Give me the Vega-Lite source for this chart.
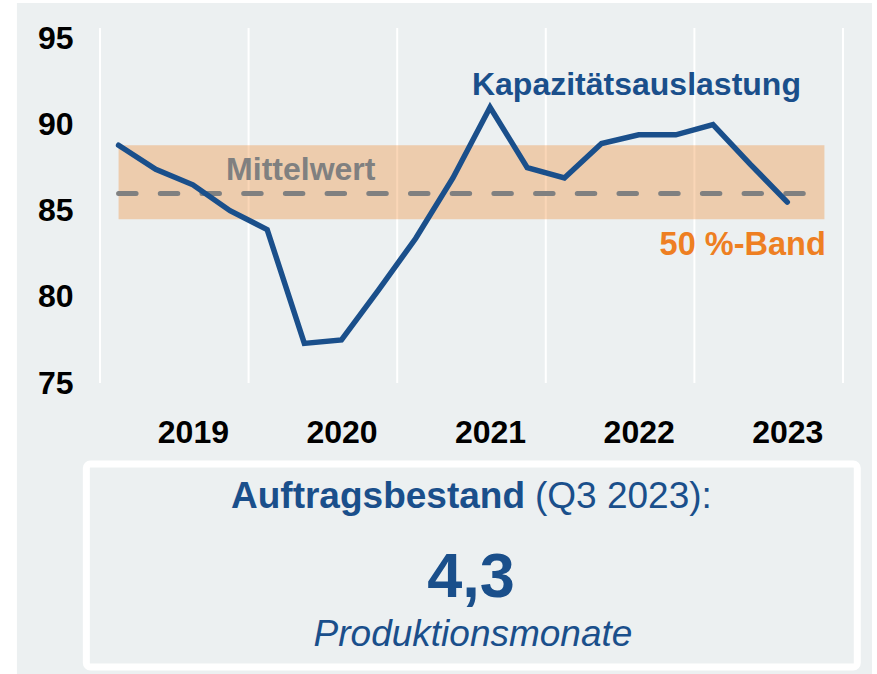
{
  "$schema": "https://vega.github.io/schema/vega-lite/v6.json",
  "autosize": {"type": "none"},
  "width": 743,
  "height": 355,
  "padding": {"left": 100, "top": 28, "right": 34, "bottom": 291},
  "background": "white",
  "config": {
    "view": {"stroke": null},
    "font": "Liberation Sans",
    "axis": {"labelFont": "Liberation Sans", "labelFontWeight": "bold", "labelColor": "#000000", "labelFontSize": 32, "ticks": false, "tickSize": 0, "domain": false, "grid": false, "title": null}
  },
  "layer": [
    {
      "data": {"values": [{}]},
      "mark": {"type": "rect", "fill": "#ECF0F1"},
      "encoding": {
        "x": {"datum": 2018.441, "type": "quantitative", "scale": {"domain": [2019, 2024], "nice": false, "zero": false}, "axis": {"values": [2019.625, 2020.625, 2021.625, 2022.625, 2023.625], "labelExpr": "'' + floor(datum.value)", "labelPadding": 59, "labelBaseline": "alphabetic", "zindex": 2}},
        "x2": {"datum": 2024.195},
        "y": {"datum": 97.05, "type": "quantitative", "scale": {"domain": [75, 95.6], "nice": false, "zero": false}, "axis": {"values": [75, 80, 85, 90, 95], "labelPadding": 27, "zindex": 2}},
        "y2": {"datum": 57}
      }
    },
    {
      "data": {"values": [{"jahr": 2019}, {"jahr": 2020}, {"jahr": 2021}, {"jahr": 2022}, {"jahr": 2023}, {"jahr": 2024}]},
      "mark": {"type": "rule", "color": "#FFFFFF", "strokeWidth": 2},
      "encoding": {"x": {"field": "jahr", "type": "quantitative"}}
    },
    {
      "data": {"values": [{"von": 2019.125, "bis": 2023.875, "unten": 84.5, "oben": 88.8}]},
      "mark": {"type": "rect", "fill": "#F07F1E", "opacity": 0.32},
      "encoding": {
        "x": {"field": "von", "type": "quantitative"},
        "x2": {"field": "bis"},
        "y": {"field": "unten", "type": "quantitative"},
        "y2": {"field": "oben"}
      }
    },
    {
      "data": {"values": [{"von": 2019.125, "bis": 2023.875, "mittelwert": 86.0}]},
      "mark": {"type": "rule", "color": "#808080", "strokeWidth": 5, "strokeDash": [17.5, 24.2], "strokeCap": "round"},
      "encoding": {
        "x": {"field": "von", "type": "quantitative"},
        "x2": {"field": "bis"},
        "y": {"field": "mittelwert", "type": "quantitative"}
      }
    },
    {
      "data": {"values": [
        {"quartal": "2019-Q1", "t": 2019.125, "wert": 88.8},
        {"quartal": "2019-Q2", "t": 2019.375, "wert": 87.4},
        {"quartal": "2019-Q3", "t": 2019.625, "wert": 86.5},
        {"quartal": "2019-Q4", "t": 2019.875, "wert": 85.0},
        {"quartal": "2020-Q1", "t": 2020.125, "wert": 83.9},
        {"quartal": "2020-Q2", "t": 2020.375, "wert": 77.3},
        {"quartal": "2020-Q3", "t": 2020.625, "wert": 77.5},
        {"quartal": "2020-Q4", "t": 2020.875, "wert": 80.4},
        {"quartal": "2021-Q1", "t": 2021.125, "wert": 83.4},
        {"quartal": "2021-Q2", "t": 2021.375, "wert": 86.9},
        {"quartal": "2021-Q3", "t": 2021.625, "wert": 91.0},
        {"quartal": "2021-Q4", "t": 2021.875, "wert": 87.5},
        {"quartal": "2022-Q1", "t": 2022.125, "wert": 86.9},
        {"quartal": "2022-Q2", "t": 2022.375, "wert": 88.9},
        {"quartal": "2022-Q3", "t": 2022.625, "wert": 89.4},
        {"quartal": "2022-Q4", "t": 2022.875, "wert": 89.4},
        {"quartal": "2023-Q1", "t": 2023.125, "wert": 90.0},
        {"quartal": "2023-Q2", "t": 2023.375, "wert": 87.7},
        {"quartal": "2023-Q3", "t": 2023.625, "wert": 85.5}
      ]},
      "mark": {"type": "line", "color": "#1A4F8B", "strokeWidth": 5.5, "strokeCap": "round", "strokeJoin": "miter"},
      "encoding": {
        "x": {"field": "t", "type": "quantitative"},
        "y": {"field": "wert", "type": "quantitative"}
      }
    },
    {
      "data": {"values": [{}]},
      "mark": {"type": "text", "text": "Kapazitätsauslastung", "font": "Liberation Sans", "fontWeight": "bold", "fontSize": 32, "color": "#1A4F8B", "align": "center", "baseline": "alphabetic"},
      "encoding": {"x": {"datum": 2022.61, "type": "quantitative"}, "y": {"datum": 91.71, "type": "quantitative"}}
    },
    {
      "data": {"values": [{}]},
      "mark": {"type": "text", "text": "Mittelwert", "font": "Liberation Sans", "fontWeight": "bold", "fontSize": 32, "color": "#808080", "align": "center", "baseline": "alphabetic"},
      "encoding": {"x": {"datum": 2020.351, "type": "quantitative"}, "y": {"datum": 86.78, "type": "quantitative"}}
    },
    {
      "data": {"values": [{}]},
      "mark": {"type": "text", "text": "50 %-Band", "font": "Liberation Sans", "fontWeight": "bold", "fontSize": 32.5, "color": "#EE7F22", "align": "right", "baseline": "alphabetic"},
      "encoding": {"x": {"datum": 2023.884, "type": "quantitative"}, "y": {"datum": 82.43, "type": "quantitative"}}
    },
    {
      "data": {"values": [{}]},
      "mark": {"type": "rect", "fill": "#ECF0F1", "stroke": "#FFFFFF", "strokeWidth": 7, "cornerRadius": 4},
      "encoding": {
        "x": {"datum": 2018.908, "type": "quantitative"},
        "x2": {"datum": 2024.096},
        "y": {"datum": 70.30, "type": "quantitative"},
        "y2": {"datum": 58.52}
      }
    },
    {
      "data": {"values": [{}]},
      "mark": {"type": "text", "text": "Auftragsbestand", "font": "Liberation Sans", "fontWeight": "bold", "fontSize": 37, "color": "#1A4F8B", "align": "right", "baseline": "alphabetic"},
      "encoding": {"x": {"datum": 2021.860, "type": "quantitative"}, "y": {"datum": 67.75, "type": "quantitative"}}
    },
    {
      "data": {"values": [{}]},
      "mark": {"type": "text", "text": "(Q3 2023):", "font": "Liberation Sans", "fontWeight": "normal", "fontSize": 37, "color": "#1A4F8B", "align": "left", "baseline": "alphabetic"},
      "encoding": {"x": {"datum": 2021.927, "type": "quantitative"}, "y": {"datum": 67.75, "type": "quantitative"}}
    },
    {
      "data": {"values": [{"wert": "4,3"}]},
      "mark": {"type": "text", "font": "Liberation Sans", "fontWeight": "bold", "fontSize": 63, "color": "#1A4F8B", "align": "center", "baseline": "alphabetic"},
      "encoding": {"text": {"field": "wert"}, "x": {"datum": 2021.497, "type": "quantitative"}, "y": {"datum": 62.6, "type": "quantitative"}}
    },
    {
      "data": {"values": [{}]},
      "mark": {"type": "text", "text": "Produktionsmonate", "font": "Liberation Sans", "fontStyle": "italic", "fontSize": 37, "color": "#1A4F8B", "align": "center", "baseline": "alphabetic"},
      "encoding": {"x": {"datum": 2021.51, "type": "quantitative"}, "y": {"datum": 59.74, "type": "quantitative"}}
    }
  ]
}
